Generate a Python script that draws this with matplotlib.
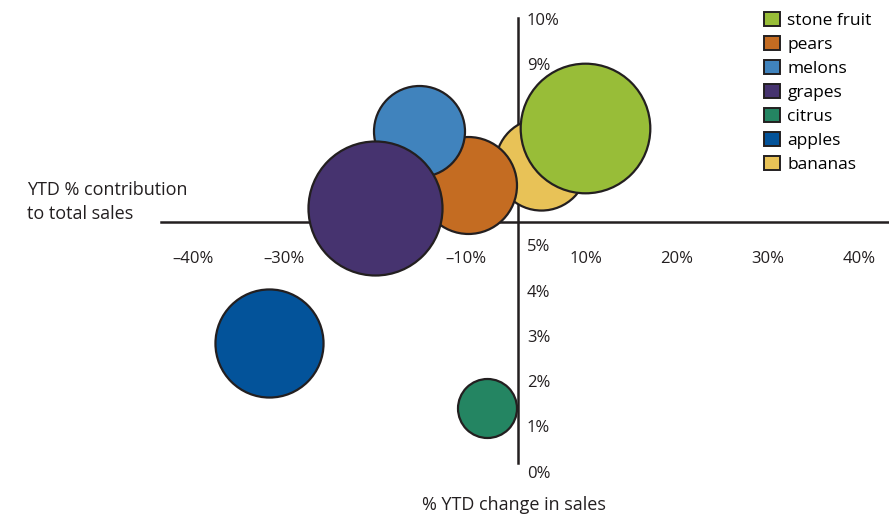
import matplotlib
matplotlib.use("Agg")
import matplotlib.pyplot as plt
from matplotlib.patches import Patch

plt.rcParams['font.family'] = ['Open Sans', 'DejaVu Sans']

# ----------------------------------------
# Data
# ----------------------------------------
fruits = ["stone fruit", "pears", "melons", "grapes", "citrus", "apples", "bananas"]
ytd_change = [7.4, -5.5, -10.9, -15.7, -3.4, -27.4, 2.5]          # % YTD change in sales
contribution = [7.57, 6.32, 7.51, 5.81, 1.38, 2.83, 6.78]         # YTD % contribution to total sales
volume = [42.0, 23.5, 20.7, 44.9, 8.7, 29.2, 21.2]                # bubble size (relative)
colors = ["#98bd38", "#c46c22", "#4083bd", "#46336f", "#248562", "#03539a", "#e8c257"]

x_ticks = [-40, -30, -10, 10, 20, 30, 40]
y_ticks = [0, 1, 2, 3, 4, 5, 9, 10]
x_cross = 5.5   # contribution level where the horizontal axis sits

# drawing order, back to front
draw_order = ["bananas", "stone fruit", "pears", "melons", "grapes", "apples", "citrus"]

edge = "#231f20"

fig = plt.figure(figsize=(8.89, 5.19), dpi=100)
ax = fig.add_axes([0, 0, 1, 1])
ax.set_xlim(-56.92, 40.77)
ax.set_ylim(-1.06, 10.40)
ax.axis("off")

# axes lines
ax.plot([-39.2, 40.77], [x_cross, x_cross], color=edge, lw=1.8, zorder=1)
ax.plot([0, 0], [0.18, 10.0], color=edge, lw=1.8, zorder=1)

# bubbles
for i, name in enumerate(draw_order):
    k = fruits.index(name)
    ax.scatter(ytd_change[k], contribution[k], s=volume[k] * 207.4,
               color=colors[k], edgecolor=edge, linewidth=1.6, zorder=2 + i)

# tick labels
for t in x_ticks:
    dx = 28 if t < 0 else -16.5
    ax.annotate(f"{t}%".replace("-", "\u2013"), (t, x_cross), xytext=(dx, -26.5),
                textcoords="offset points", ha="center", va="center",
                fontsize=12, color="#231f20", zorder=1)
for t in y_ticks:
    ax.annotate(f"{t}%", (0, t), xytext=(6.5, -2), textcoords="offset points",
                ha="left", va="center", fontsize=12, color="#231f20", zorder=1)

# axis titles
fig.text(27 / 889, 1 - 202 / 519, "YTD % contribution\nto total sales",
         ha="left", va="center", fontsize=13, linespacing=1.45, color="#231f20")
fig.text(514 / 889, 1 - 505 / 519, "% YTD change in sales",
         ha="center", va="center", fontsize=13, color="#231f20")

# legend
handles = [Patch(facecolor=c, edgecolor=edge, linewidth=1.4) for c in colors]
ax.legend(handles, fruits, loc="upper left", bbox_to_anchor=(764 / 889, 1 - 12 / 519),
          bbox_transform=fig.transFigure, frameon=False, fontsize=12.5,
          handlelength=0.9, handleheight=0.9, handletextpad=0.45,
          labelspacing=0.39, borderpad=0, borderaxespad=0)

fig.savefig("out.png", dpi=100)
